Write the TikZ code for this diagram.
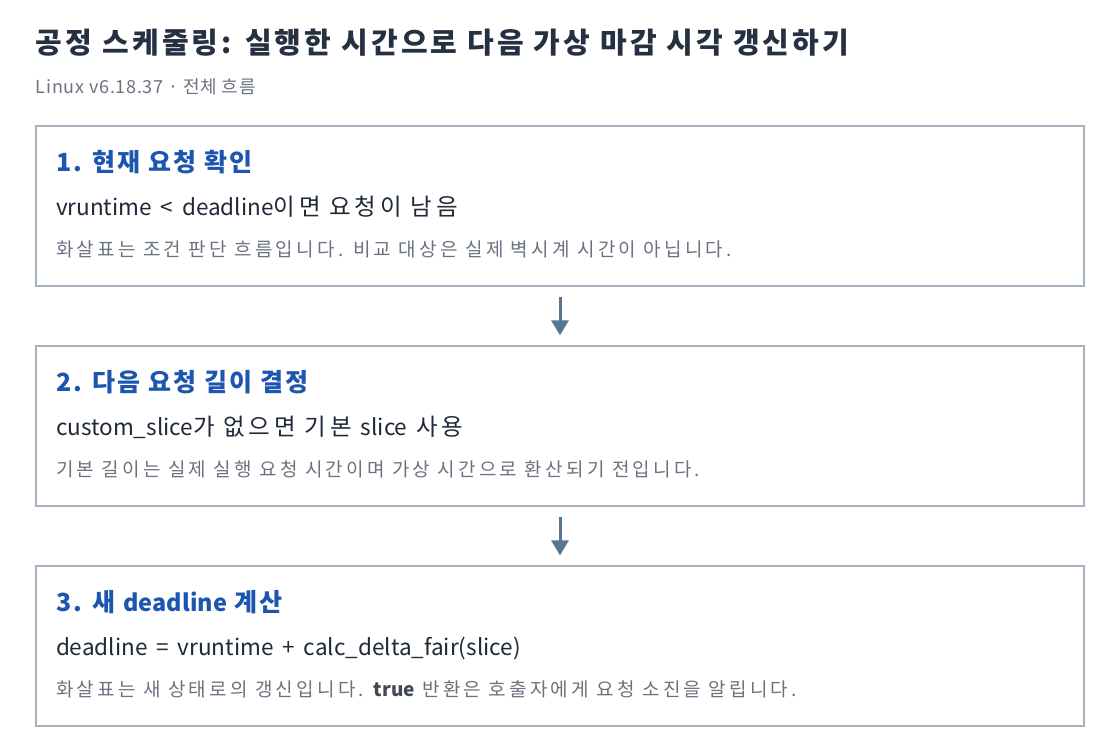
\documentclass[tikz,border=0pt]{standalone}
\usepackage{fontspec}
\setmainfont{Noto Sans CJK KR}
\newfontfamily\latfam{Noto Sans CJK KR}
\newfontfamily\latsp{Noto Sans CJK KR}[WordSpace=1.75]
\newfontfamily\fTitle{Noto Sans CJK KR}[LetterSpace=11]
\newfontfamily\fSub{Noto Sans CJK KR}[LetterSpace=4]
\newfontfamily\fHead{Noto Sans CJK KR}[LetterSpace=8.5]
\newfontfamily\fBody{Noto Sans CJK KR}[LetterSpace=16]
\newfontfamily\fNote{Noto Sans CJK KR}[LetterSpace=17]
\newcommand\lat[1]{{\latfam #1}}
\newcommand\lath[1]{{\latfam\fontsize{17.6pt}{22pt}\selectfont\bfseries #1}}
\newcommand\latb[1]{{\latsp\fontsize{16.9pt}{21pt}\selectfont #1}}
\usetikzlibrary{arrows.meta}
\definecolor{titlec}{HTML}{253142}
\definecolor{subc}{HTML}{6B7280}
\definecolor{headc}{HTML}{1D56B1}
\definecolor{bodyc}{HTML}{1F2937}
\definecolor{notec}{HTML}{6B7280}
\definecolor{boxc}{HTML}{A9B4C3}
\definecolor{arrc}{HTML}{587592}
\tikzset{
  box/.style={draw=boxc, line width=1pt, fill=white, minimum width=786pt, minimum height=120pt, inner sep=0pt},
  txt/.style={anchor=base west, inner sep=0pt, outer sep=0pt},
  titletxt/.style={txt, text=titlec, font=\fTitle\fontsize{21.75pt}{26pt}\selectfont\bfseries},
  subtxt/.style={txt, text=subc, font=\fSub\fontsize{13.5pt}{16pt}\selectfont},
  headtxt/.style={txt, text=headc, font=\fHead\fontsize{18.75pt}{22pt}\selectfont\bfseries},
  bodytxt/.style={txt, text=bodyc, font=\fBody\fontsize{17.6pt}{21pt}\selectfont},
  notetxt/.style={txt, text=notec, font=\fNote\fontsize{14.25pt}{17pt}\selectfont},
  flow/.style={draw=arrc, line width=2.25pt, -{Triangle[width=12.75pt,length=11.25pt]}, shorten <=7.5pt, shorten >=7.5pt}
}
\begin{document}
\begin{tikzpicture}[x=0.75pt,y=-0.75pt]
\useasboundingbox (0,0) rectangle (1120,754);
\node[titletxt] (title) at (36,53) {공정 스케줄링: 실행한 시간으로 다음 가상 마감 시각 갱신하기};
\node[subtxt] (sub) at (36,93) {Linux v6.18.37 · 전체 흐름};

\node[box] (b1) at (560,206) {};
\node[box] (b2) at (560,426) {};
\node[box] (b3) at (560,646) {};

\node[headtxt] (h1) at (56,171) {1. 현재 요청 확인};
\node[bodytxt] (t1) at (56,215) {\latb{vruntime < deadline}이면 요청이 남음};
\node[notetxt] (n1) at (56,256) {화살표는 조건 판단 흐름입니다. 비교 대상은 실제 벽시계 시간이 아닙니다.};

\node[headtxt] (h2) at (56,391) {2. 다음 요청 길이 결정};
\node[bodytxt] (t2) at (56,435) {\latb{custom\_slice}가 없으면 기본 \latb{slice} 사용};
\node[notetxt] (n2) at (56,476) {기본 길이는 실제 실행 요청 시간이며 가상 시간으로 환산되기 전입니다.};

\node[headtxt] (h3) at (56,611) {3. 새 \lath{deadline} 계산};
\node[bodytxt] (t3) at (56,655) {\latb{deadline = vruntime + calc\_delta\_fair(slice)}};
\node[notetxt] (n3) at (56,696) {화살표는 새 상태로의 갱신입니다. \lat{\bfseries\color{bodyc!85!white}true} 반환은 호출자에게 요청 소진을 알립니다.};

\draw[flow] (b1) -- (b2);
\draw[flow] (b2) -- (b3);
\end{tikzpicture}
\end{document}
